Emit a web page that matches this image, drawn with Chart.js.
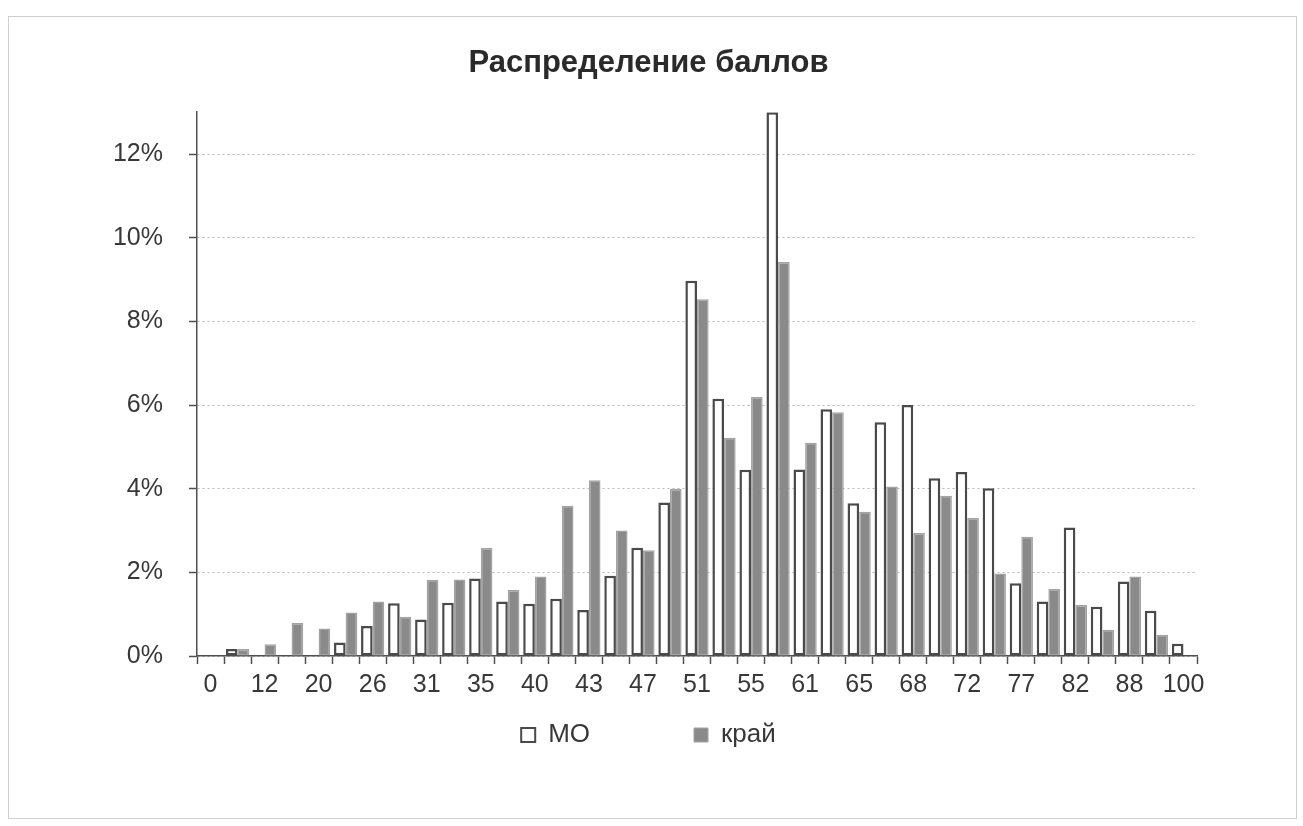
<!DOCTYPE html>
<html lang="ru">
<head>
<meta charset="utf-8">
<title>Распределение баллов</title>
<script src="https://cdn.jsdelivr.net/npm/chart.js@4"></script>
<style>
  html, body { margin: 0; padding: 0; background: #fff; }
  #frame { position: absolute; left: 8px; top: 16px; width: 1287px; height: 801px; border: 1px solid #cfcfcf; }
  #wrap { position: absolute; left: 0; top: 0; width: 1303px; height: 826px; }
</style>
</head>
<body>
<div id="frame"></div>
<div id="wrap"><canvas id="scoreChart"></canvas></div>
<script>
// --- Data ---
// score categories (only every second one is labelled on the axis)
const categories = ['0', '7', '12', '16', '20', '23', '26', '29', '31', '33', '35', '38', '40', '42', '43', '45', '47', '49',
    '51', '53', '55', '58', '61', '63', '65', '66', '68', '70', '72', '74', '77', '80', '82', '85', '88', '94', '100'];

// share of participants, %
const moValues = [0, 0.17, 0, 0, 0, 0.32, 0.72, 1.26, 0.87, 1.27, 1.85, 1.3, 1.25, 1.37, 1.1, 1.92, 2.59, 3.67,
    8.97, 6.15, 4.45, 13.0, 4.46, 5.9, 3.65, 5.59, 6.0, 4.25, 4.4, 4.01, 1.74, 1.3, 3.07, 1.18, 1.78, 1.08, 0.29];
const kraiValues = [0, 0.17, 0.28, 0.79, 0.66, 1.04, 1.3, 0.94, 1.82, 1.83, 2.58, 1.58, 1.9, 3.59, 4.2, 3.0, 2.53, 3.99,
    8.53, 5.22, 6.19, 9.42, 5.1, 5.83, 3.45, 4.05, 2.94, 3.83, 3.3, 1.97, 2.85, 1.6, 1.22, 0.63, 1.9, 0.51, 0];

const yTicks = [0, 2, 4, 6, 8, 10, 12];
const yMax = 13;

// --- Chart defaults ---
Chart.defaults.font.family = "'Liberation Sans', Arial, sans-serif";
Chart.defaults.color = '#383838';

const axisColor = '#505050';

const ctx = document.getElementById('scoreChart').getContext('2d');

new Chart(ctx, {
    type: 'bar',
    data: {
        labels: categories,
        datasets: [
            {
                label: 'МО',
                data: moValues,
                backgroundColor: '#ffffff',
                borderColor: '#4a4a4a',
                borderWidth: 2.5,
                borderSkipped: false
            },
            {
                label: 'край',
                data: kraiValues,
                backgroundColor: '#8a8a8a',
                borderColor: '#a3a3a3',
                borderWidth: 1.5,
                borderSkipped: false
            }
        ]
    },
    options: {
        responsive: true,
        maintainAspectRatio: false,
        animation: false,
        layout: { padding: { left: 100, right: 106, top: 0, bottom: 68 } },
        datasets: { bar: { categoryPercentage: 0.86, barPercentage: 1.0 } },
        plugins: {
            title: {
                display: true,
                text: 'Распределение баллов',
                color: '#2a2a2a',
                font: { size: 31, weight: 'bold' },
                padding: { top: 45, bottom: 30 }
            },
            legend: {
                position: 'bottom',
                labels: {
                    font: { size: 26 },
                    color: '#383838',
                    boxWidth: 14,
                    boxHeight: 14,
                    padding: 10,
                    generateLabels: function(chart) {
                        const items = Chart.defaults.plugins.legend.labels.generateLabels(chart);
                        // Excel spreads the two entries wide apart
                        if (items.length) items[0].text = items[0].text + ' '.repeat(13);
                        items.forEach(it => { it.lineWidth = it.datasetIndex === 0 ? 2 : 1; });
                        return items;
                    }
                }
            },
            tooltip: { enabled: false }
        },
        scales: {
            x: {
                grid: { drawOnChartArea: false, drawTicks: true, tickLength: 8, tickColor: axisColor, tickWidth: 1.5 },
                border: { color: axisColor, width: 1.5 },
                ticks: {
                    autoSkip: false,
                    maxRotation: 0,
                    padding: 6,
                    font: { size: 25 },
                    callback: function(value, index) { return index % 2 === 0 ? categories[index] : ''; }
                },
                afterFit: function(scale) { scale.height = 56; }
            },
            y: {
                min: 0,
                max: yMax,
                afterBuildTicks: function(scale) { scale.ticks = yTicks.map(v => ({ value: v })); },
                grid: { color: '#b8b8b8', lineWidth: 1, tickLength: 8, tickColor: axisColor, tickWidth: 1.5 },
                border: { color: axisColor, width: 1.5, dash: [2, 3] },
                ticks: {
                    padding: 26,
                    font: { size: 25 },
                    callback: function(value) { return value + '%'; }
                },
                afterFit: function(scale) { scale.width = 97; }
            }
        }
    }
});
</script>
</body>
</html>
